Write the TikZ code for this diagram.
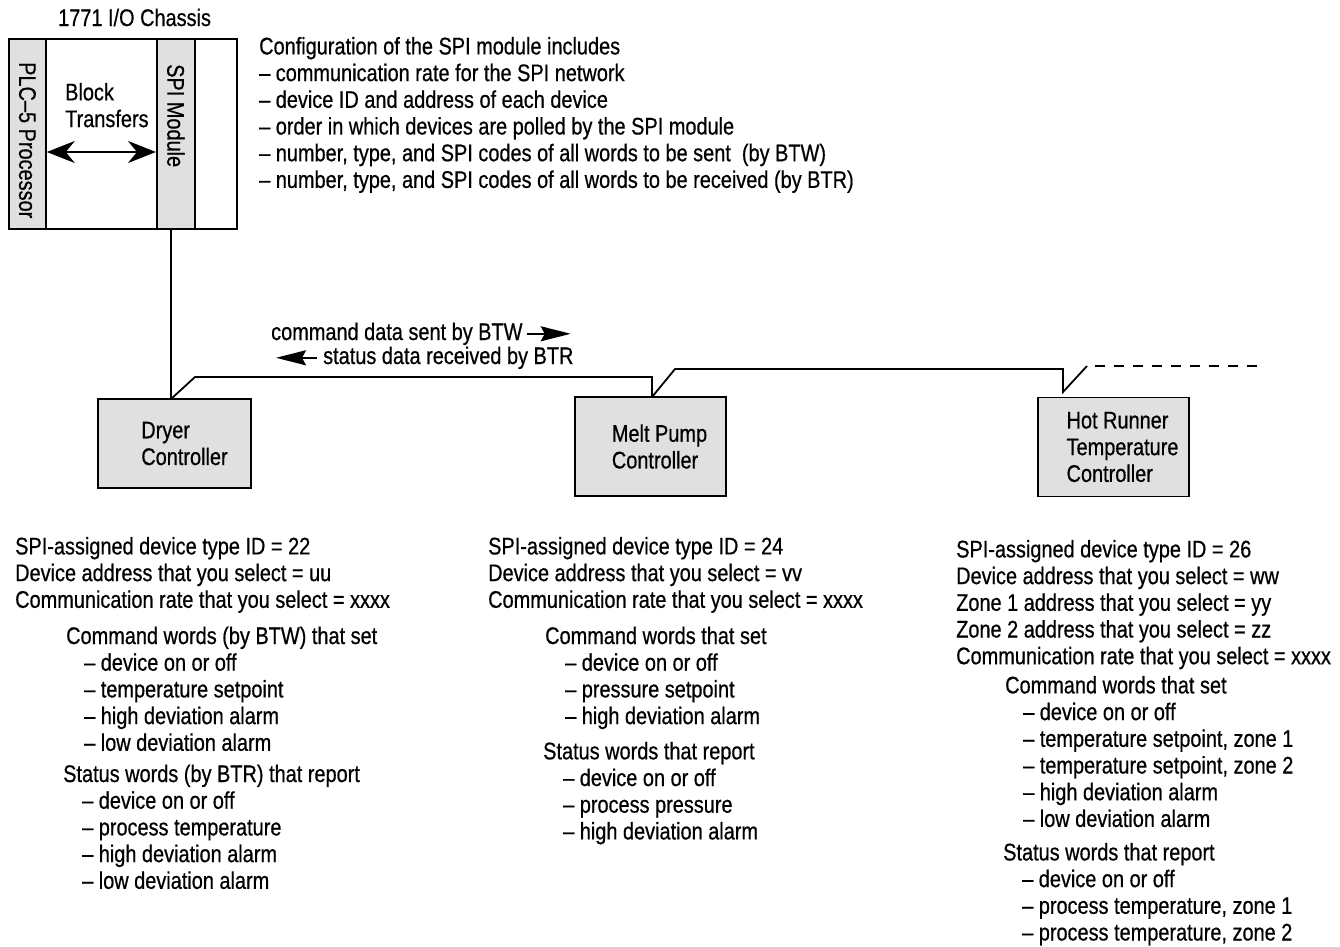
\documentclass[tikz,border=0pt]{standalone}
\usepackage{fontspec}
\setmainfont{Liberation Sans}[FakeStretch=0.83, FakeBold=0.6]
\usetikzlibrary{arrows.meta}
\definecolor{boxgray}{gray}{0.88}

\begin{document}
\begin{tikzpicture}[x=1pt, y=-1pt,
        txt/.style={font=\fontsize{24}{26.7}\selectfont, inner sep=0pt, align=left, anchor=north west},
        slot/.style={draw, line width=1.8pt, inner sep=0pt, anchor=north west, minimum height=190pt},
        ctrl/.style={draw, line width=1.8pt, fill=boxgray, align=left, inner sep=0pt,
            font=\fontsize{24}{26.7}\selectfont, minimum width=151pt, minimum height=99pt},
        bus/.style={line width=1.8pt},
        dblarrow/.style={line width=1.8pt, {Stealth[length=28pt,width=22pt,inset=9pt]}-{Stealth[length=28pt,width=22pt,inset=9pt]}},
        dirarrow/.style={line width=1.8pt, -{Stealth[length=30pt,width=15pt,inset=4pt]}}
    ]

    \useasboundingbox (0,0) rectangle (1340,946);

    % I/O chassis
    \node[slot, minimum width=228pt] (chassis) at (8,38) {};
    \node[slot, fill=boxgray, minimum width=37pt] (plc) at (8,38) {};
    \node[slot, fill=boxgray, minimum width=38pt] (spi) at (156,38) {};

    \node[txt, anchor=base west] (title) at (58,26) {1771 I/O Chassis};
    \node[txt, rotate=-90, anchor=west] (plclabel) at (plc.north |- 0,62) {PLC–5 Processor};
    \node[txt, rotate=-90, anchor=west] (spilabel) at (spi.north |- 0,64) {SPI Module};
    \node[txt] (btlabel) at (65,81.5) {\strut Block\\Transfers};
    \draw[dblarrow] (plc.east |- 0,152) -- (spi.west |- 0,152);

    \node[txt] (config) at (259,35.5) {\strut Configuration of the SPI module includes\\
        – communication rate for the SPI network\\
        – device ID and address of each device\\
        – order in which devices are polled by the SPI module\\
        – number, type, and SPI codes of all words to be sent\ \ (by BTW)\\
        – number, type, and SPI codes of all words to be received (by BTR)};

    % controllers
    \node[ctrl, minimum width=153pt, minimum height=89pt] (dryer) at (174.5,443.5) {\hspace*{20pt}Dryer\\\hspace*{20pt}Controller};
    \node[ctrl] (melt) at (650.5,446.5) {\hspace*{18pt}Melt Pump\\\hspace*{18pt}Controller};
    \node[ctrl] (hot) at (1113.5,447) {\hspace*{18pt}Hot Runner\\\hspace*{18pt}Temperature\\\hspace*{18pt}Controller};

    % SPI network
    \coordinate (tapD) at (171,399);
    \coordinate (tapM) at (652,397);
    \coordinate (tapH) at (1063,392);
    \draw[bus] (tapD |- spi.south) -- (tapD);
    \draw[bus] (tapD) -- ++(24,-22) coordinate (kneeD) -- (kneeD -| tapM) -- (tapM);
    \draw[bus] (tapM) -- ++(23,-28) coordinate (kneeM) -- (kneeM -| tapH) -- (tapH) -- ++(24,-26) coordinate (kneeH);
    \draw[bus, dash pattern=on 10pt off 9pt] ([xshift=8pt]kneeH) -- ++(162,0);

    \node[txt, anchor=base west] (cmdlabel) at (271,340) {command data sent by BTW};
    \draw[dirarrow] ([xshift=4pt]cmdlabel.east) -- ++(44,0);
    \node[txt, anchor=base west] (statlabel) at (323,364) {status data received by BTR};
    \draw[dirarrow] ([xshift=-6pt]statlabel.west) -- ++(-41,0);

    % device settings
    \node[txt] (dryerinfo) at (15,535.5) {\strut SPI-assigned device type ID = 22\\
        Device address that you select = uu\\
        Communication rate that you select = xxxx\\[9.5pt]
        \hspace*{51pt}Command words (by BTW) that set\\
        \hspace*{69pt}– device on or off\\
        \hspace*{69pt}– temperature setpoint\\
        \hspace*{69pt}– high deviation alarm\\
        \hspace*{69pt}– low deviation alarm\\[4.5pt]
        \hspace*{48pt}Status words (by BTR) that report\\
        \hspace*{67pt}– device on or off\\
        \hspace*{67pt}– process temperature\\
        \hspace*{67pt}– high deviation alarm\\
        \hspace*{67pt}– low deviation alarm};

    \node[txt] (meltinfo) at (488,535.5) {\strut SPI-assigned device type ID = 24\\
        Device address that you select = vv\\
        Communication rate that you select = xxxx\\[9.5pt]
        \hspace*{57pt}Command words that set\\
        \hspace*{77pt}– device on or off\\
        \hspace*{77pt}– pressure setpoint\\
        \hspace*{77pt}– high deviation alarm\\[8.5pt]
        \hspace*{55pt}Status words that report\\
        \hspace*{75pt}– device on or off\\
        \hspace*{75pt}– process pressure\\
        \hspace*{75pt}– high deviation alarm};

    \node[txt] (hotinfo) at (956,538.5) {\strut SPI-assigned device type ID = 26\\
        Device address that you select = ww\\
        Zone 1 address that you select = yy\\
        Zone 2 address that you select = zz\\
        Communication rate that you select = xxxx\\[2.5pt]
        \hspace*{49pt}Command words that set\\
        \hspace*{67pt}– device on or off\\
        \hspace*{67pt}– temperature setpoint, zone 1\\
        \hspace*{67pt}– temperature setpoint, zone 2\\
        \hspace*{67pt}– high deviation alarm\\
        \hspace*{67pt}– low deviation alarm\\[6.8pt]
        \hspace*{47pt}Status words that report\\
        \hspace*{66pt}– device on or off\\
        \hspace*{66pt}– process temperature, zone 1\\
        \hspace*{66pt}– process temperature, zone 2};

\end{tikzpicture}
\end{document}
